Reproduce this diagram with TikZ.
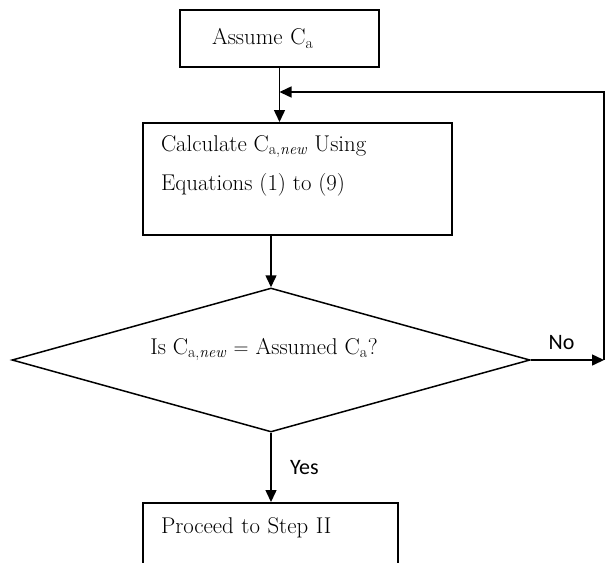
\documentclass[tikz,border=0pt]{standalone}
\usepackage{fontspec}
\newfontfamily\labelfont{Carlito}
\usetikzlibrary{arrows.meta,positioning,shapes.geometric}

\begin{document}
\begin{tikzpicture}[x=1pt,y=-1pt,>={Triangle[length=12pt,width=11pt]},line width=1.5pt,
  stepbox/.style={draw,font=\fontsize{22.8}{39}\selectfont},
  decide/.style={draw,diamond,font=\fontsize{22.8}{39}\selectfont,inner sep=0pt,shape aspect=3.6},
  branch/.style={font=\labelfont\fontsize{22}{26}\selectfont}]
\useasboundingbox (0,0) rectangle (609,562);

\node[stepbox,align=left,minimum width=199pt,minimum height=57pt,text width=135pt,inner xsep=32pt] (assume) at (279.5,38.5) {Assume C\textsubscript{a}};
\node[stepbox,inner xsep=18pt,inner ysep=12.8pt,text height=16pt,text depth=70.4pt,anchor=north] (calc) at (297.5,122) {\parbox[t]{273pt}{Calculate C\textsubscript{a,\textit{new}} Using\\ Equations (1) to (9)}};
\node[decide,minimum width=518pt,minimum height=144pt,text height=15pt,text depth=26pt] (check) at (271,360) {Is C\textsubscript{a,\textit{new}} $=$ Assumed C\textsubscript{a}?\hspace*{14pt}};
\node[stepbox,align=left,anchor=north,minimum width=255pt,text width=219pt,inner xsep=18pt,inner ysep=16pt,text height=15pt,text depth=40pt] (final) at (270.5,502) {Proceed to Step II};

\coordinate (loop) at (604,360);
\coordinate (joint) at (assume.south |- 0,92);

\draw[->] (assume.south) -- (assume.south |- calc.north);
\draw[->] (check.north |- calc.south) -- (check.north);
\draw[->] (check.east) -- node[branch,above=6pt,pos=0.42] {No} (loop);
\draw[->] (loop) |- (joint);
\draw[->] (check.south) -- node[branch,right=15pt] {Yes} (check.south |- final.north);
\end{tikzpicture}
\end{document}
